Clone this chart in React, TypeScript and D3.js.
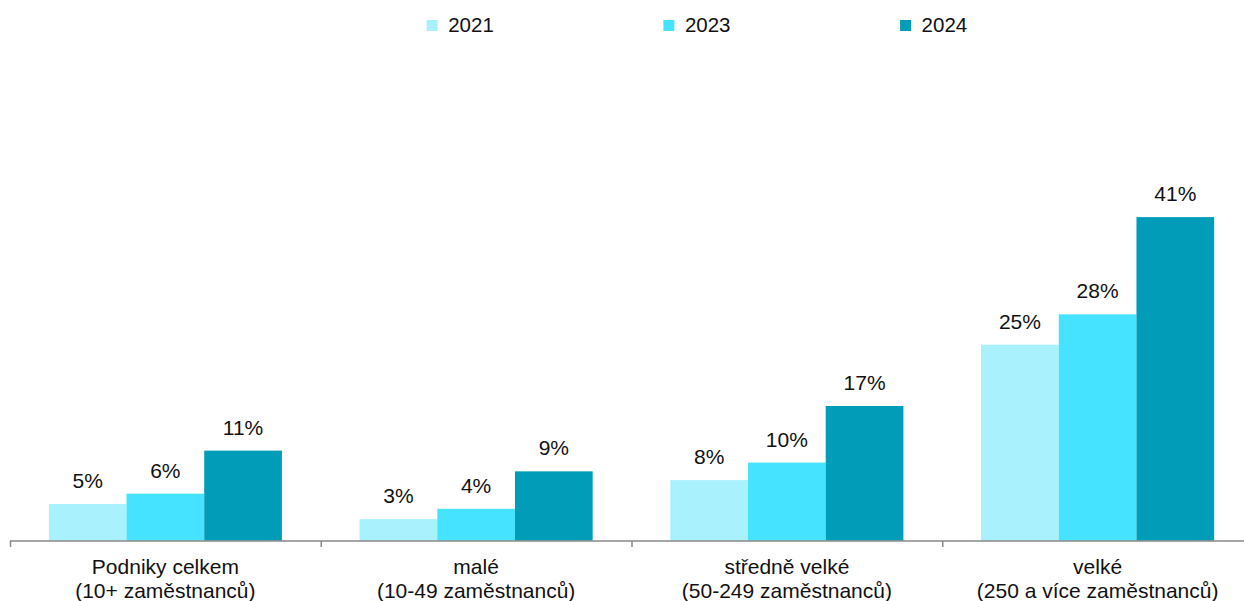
import React from "react";
import * as d3 from "d3";

const categories: string[][] = [
  ["Podniky celkem", "(10+ zaměstnanců)"],
  ["malé", "(10-49 zaměstnanců)"],
  ["středně velké", "(50-249 zaměstnanců)"],
  ["velké", "(250 a více zaměstnanců)"],
];
const series = ["2021", "2023", "2024"];
const values2021 = [4.6, 2.7, 7.6, 24.6];
const values2023 = [5.9, 4.0, 9.8, 28.4];
const values2024 = [11.3, 8.7, 16.9, 40.6];
const colors = ["#A9F1FC", "#45E3FF", "#009CB8"];

const W = 1244;
const H = 601;
const FONT = "'Liberation Sans', Arial, sans-serif";

export default function App() {
  const data = [values2021, values2023, values2024];
  const x0 = d3
    .scaleBand<number>()
    .domain(categories.map((_, i) => i))
    .range([10, 1253])
    .paddingInner(0)
    .paddingOuter(0);
  const x1 = d3
    .scaleBand<string>()
    .domain(series)
    .range([0, x0.bandwidth()])
    .paddingInner(0)
    .paddingOuter(0.5);
  const y = d3.scaleLinear().domain([0, 50]).range([540.7, 540.7 - 50 * 7.97]);
  const fmt = (v: number) => `${Math.round(v)}%`;
  const axisY = 541;

  return (
    <svg
      width={W}
      height={H}
      style={{ position: "absolute", left: 0, top: 0, background: "#fff" }}
      fontFamily={FONT}
    >
      {/* legend */}
      {series.map((s, i) => (
        <g key={s} transform={`translate(${426.7 + i * 236.7},0)`}>
          <rect x={0} y={20} width={11} height={11} fill={colors[i]} />
          <text x={21.5} y={31.7} fontSize={20.5} fill="#111">
            {s}
          </text>
        </g>
      ))}
      {/* bars */}
      {categories.map((_, ci) => (
        <g key={ci} transform={`translate(${x0(ci)},0)`}>
          {series.map((s, si) => {
            const v = data[si][ci];
            const bx = x1(s)!;
            return (
              <g key={s}>
                <rect
                  x={bx}
                  y={y(v)}
                  width={x1.bandwidth()}
                  height={y(0) - y(v)}
                  fill={colors[si]}
                />
                <text
                  x={bx + x1.bandwidth() / 2}
                  y={y(v) - 16}
                  textAnchor="middle"
                  fontSize={21}
                  fill="#111"
                >
                  {fmt(v)}
                </text>
              </g>
            );
          })}
          {categories[ci].map((line, li) => (
            <text
              key={li}
              x={x0.bandwidth() / 2}
              y={574.3 + li * 23.5}
              textAnchor="middle"
              fontSize={21}
              fill="#111"
            >
              {line}
            </text>
          ))}
        </g>
      ))}
      {/* axis */}
      <line x1={10} x2={W} y1={axisY} y2={axisY} stroke="#898989" strokeWidth={1.5} />
      {categories.map((_, ci) => (
        <line
          key={ci}
          x1={x0(ci)! + 0.5}
          x2={x0(ci)! + 0.5}
          y1={axisY}
          y2={axisY + 6}
          stroke="#898989"
          strokeWidth={1.5}
        />
      ))}
    </svg>
  );
}
